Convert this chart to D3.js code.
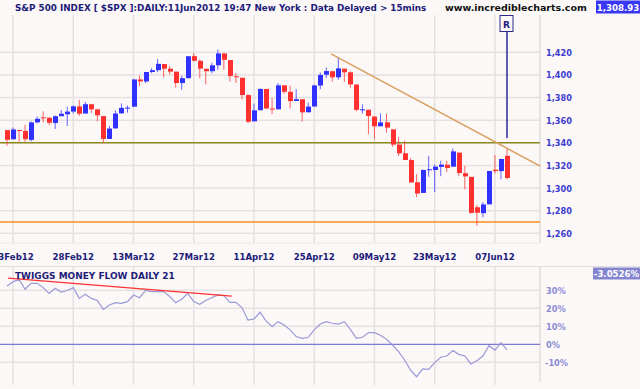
<!DOCTYPE html>
<html>
<head>
<meta charset="utf-8">
<script src="https://cdn.jsdelivr.net/npm/d3@7"></script>
<style>
  body { margin: 0; background: #fcf8f8; }
  svg { display: block; }
  text { font-family: "DejaVu Sans", Verdana, sans-serif; font-weight: bold; }
</style>
</head>
<body>
<div id="chart"></div>
<script>
// S&P 500 daily candles, 10 Feb 2012 to 11 Jun 2012
const dates = [
  "10Feb12","13Feb12","14Feb12","15Feb12","16Feb12","17Feb12","21Feb12","22Feb12","23Feb12","24Feb12",
  "27Feb12","28Feb12","29Feb12","01Mar12","02Mar12","05Mar12","06Mar12","07Mar12","08Mar12","09Mar12",
  "12Mar12","13Mar12","14Mar12","15Mar12","16Mar12","19Mar12","20Mar12","21Mar12","22Mar12","23Mar12",
  "26Mar12","27Mar12","28Mar12","29Mar12","30Mar12","02Apr12","03Apr12","04Apr12","05Apr12","09Apr12",
  "10Apr12","11Apr12","12Apr12","13Apr12","16Apr12","17Apr12","18Apr12","19Apr12","20Apr12","23Apr12",
  "24Apr12","25Apr12","26Apr12","27Apr12","30Apr12","01May12","02May12","03May12","04May12","07May12",
  "08May12","09May12","10May12","11May12","14May12","15May12","16May12","17May12","18May12","21May12",
  "22May12","23May12","24May12","25May12","29May12","30May12","31May12","01Jun12","04Jun12","05Jun12",
  "06Jun12","07Jun12","08Jun12","11Jun12"
];
const opens = [
  1351.2,1343.1,1351.3,1350.5,1342.6,1358.1,1362.5,1362.1,1357.5,1363.5,
  1365.2,1367.6,1372.2,1365.9,1374.1,1369.6,1363.6,1343.4,1352.7,1366.0,
  1370.8,1371.9,1396.0,1394.2,1402.6,1404.2,1409.6,1405.5,1402.9,1392.8,
  1397.1,1416.6,1412.5,1405.4,1403.3,1408.5,1419.0,1413.1,1398.8,1397.5,
  1382.2,1359.0,1368.8,1387.6,1370.3,1369.6,1390.8,1385.1,1377.0,1378.5,
  1367.0,1372.1,1390.6,1400.2,1403.3,1397.9,1405.5,1402.3,1391.5,1368.8,
  1369.2,1363.2,1354.6,1358.1,1351.9,1338.4,1330.8,1324.8,1305.1,1295.7,
  1316.1,1316.0,1318.7,1320.6,1318.9,1331.3,1313.1,1309.9,1283.0,1277.8,
  1285.6,1316.2,1315.0,1328.5
];
const highs = [
  1351.2,1353.4,1351.3,1355.9,1359.0,1363.4,1367.8,1362.7,1364.2,1368.9,
  1371.9,1373.1,1378.0,1376.2,1374.5,1369.6,1363.6,1354.9,1368.7,1374.8,
  1373.0,1396.1,1399.4,1402.6,1405.9,1414.0,1409.6,1407.8,1402.9,1399.2,
  1416.6,1419.2,1413.7,1405.4,1410.9,1422.4,1419.0,1413.1,1401.6,1397.5,
  1383.0,1374.7,1388.1,1387.6,1379.7,1392.8,1390.8,1390.5,1387.4,1378.5,
  1375.6,1391.4,1402.1,1406.6,1403.3,1415.3,1405.5,1403.1,1391.5,1373.9,
  1369.2,1363.7,1365.9,1365.7,1351.9,1344.9,1341.8,1326.4,1312.2,1316.4,
  1328.5,1320.7,1324.1,1324.2,1334.9,1331.3,1319.7,1309.9,1285.0,1287.6,
  1315.1,1329.1,1325.8,1335.5
];
const lows = [
  1337.4,1343.1,1340.8,1340.8,1341.2,1357.2,1358.1,1355.5,1352.3,1363.5,
  1354.9,1366.0,1363.8,1365.9,1366.4,1359.1,1340.0,1343.4,1352.7,1366.0,
  1366.7,1371.9,1390.0,1392.8,1401.5,1402.4,1397.7,1400.6,1388.7,1386.9,
  1397.1,1412.0,1397.2,1391.6,1401.4,1404.5,1404.6,1394.1,1392.9,1378.2,
  1357.4,1359.0,1368.8,1369.9,1365.4,1369.6,1383.3,1370.3,1377.0,1358.8,
  1366.8,1372.1,1387.3,1397.3,1394.0,1395.7,1393.9,1388.7,1368.0,1366.0,
  1347.8,1343.1,1354.6,1348.9,1336.6,1328.4,1324.8,1304.9,1292.0,1295.7,
  1310.0,1296.5,1310.5,1314.2,1318.9,1310.8,1298.9,1277.3,1266.7,1274.2,
  1285.6,1312.7,1307.8,1307.7
];
const closes = [
  1342.6,1351.8,1350.5,1343.2,1358.0,1361.2,1362.2,1357.7,1363.5,1365.7,
  1367.6,1372.2,1365.7,1374.1,1369.6,1364.3,1343.4,1352.6,1365.9,1370.9,
  1371.1,1396.0,1394.3,1402.6,1404.2,1409.8,1405.5,1402.9,1392.8,1397.1,
  1416.5,1412.5,1405.5,1403.3,1408.5,1419.0,1413.4,1399.0,1398.1,1382.2,
  1358.6,1368.7,1387.6,1370.3,1369.6,1390.8,1385.1,1376.9,1378.5,1366.9,
  1372.0,1390.7,1400.0,1403.4,1397.9,1405.8,1402.3,1391.6,1369.1,1369.6,
  1363.7,1354.6,1358.0,1353.4,1338.4,1330.7,1324.8,1304.9,1295.2,1316.0,
  1316.6,1318.9,1320.7,1317.8,1332.4,1313.3,1310.3,1278.0,1278.2,1285.5,
  1315.1,1315.0,1325.7,1308.9
];
// Twiggs Money Flow (21), percent
const tmf = [
  32.4,34.7,36.1,30.6,33.9,33.9,31.5,28.3,31.1,29.0,
  29.9,31.5,25.5,27.8,25.5,24.3,19.4,21.8,23.1,22.7,
  23.7,27.4,25.9,29.9,29.3,29.3,29.3,26.6,23.1,25.0,
  28.3,23.7,22.2,24.3,25.9,27.4,27.0,23.3,23.3,20.4,
  13.5,14.1,17.8,13.0,9.8,12.6,10.7,8.0,4.3,3.3,
  3.9,8.0,11.3,12.6,11.7,11.2,12.6,8.3,3.3,3.9,
  6.5,6.5,5.0,2.8,-0.4,-4.1,-8.7,-14.3,-18.0,-13.7,
  -13.9,-10.2,-7.2,-6.5,-3.5,-5.6,-6.5,-10.9,-9.1,-6.5,
  -0.8,-3.2,0.9,-3.05
];
const dateTicks = ["13Feb12","28Feb12","13Mar12","27Mar12","11Apr12","25Apr12","09May12","23May12","07Jun12"];
const priceTicks = [1260, 1280, 1300, 1320, 1340, 1360, 1380, 1400, 1420];
const tmfTicks = [-10, 0, 10, 20, 30];

// drawn lines: [bar index, value]
const resistTrend = [[53.8, 1418.6], [88.5, 1319.4]];
const supportLevel = 1340;
const lowLevel = 1270;
const tmfTrend = [[0.17, 36.8], [37.3, 26.8]];
const rMarkPrice = 1344.2;
const lastPrice = "1,308.93";
const lastTmf = "-3.0526%";

const W = 640, H = 389;
const plotRight = 540;
const pTop = 15, pBottom = 243;
const iTop = 267, iBottom = 385;

const svg = d3.select("#chart").append("svg")
  .attr("width", W).attr("height", H);
svg.append("rect").attr("width", W).attr("height", H).attr("fill", "#fcf8f8");

const x = d3.scaleLinear().domain([0, dates.length - 1]).range([7, 507]);
const y = d3.scaleLinear().domain([1260, 1420]).range([233.3, 52.3]);
const yT = d3.scaleLinear().domain([-10, 30]).range([362.3, 290.3]);

const grid = "#e6e1e1";
const tickIdx = dateTicks.map(d => dates.indexOf(d));

// shrink a text's font until it fits the width it has in the picture
function fitText(sel, width) {
  const node = sel.node();
  const fs = +sel.attr("font-size");
  const w = node.getComputedTextLength();
  if (w > width) sel.attr("font-size", fs * width / w);
  return sel;
}

// price panel grid
const pg = svg.append("g");
pg.selectAll(".hg").data(priceTicks).join("line")
  .attr("x1", 0).attr("x2", plotRight)
  .attr("y1", d => y(d)).attr("y2", d => y(d))
  .attr("stroke", grid).attr("stroke-width", 1.5);
pg.selectAll(".vg").data(tickIdx).join("line")
  .attr("x1", d => x(d)).attr("x2", d => x(d))
  .attr("y1", pTop).attr("y2", pBottom)
  .attr("stroke", grid).attr("stroke-width", 1.5);
pg.append("line").attr("x1", plotRight).attr("x2", plotRight)
  .attr("y1", pTop).attr("y2", pBottom).attr("stroke", "#d4d0d0");
pg.append("line").attr("x1", 0).attr("x2", plotRight)
  .attr("y1", pBottom).attr("y2", pBottom).attr("stroke", "#ece8e8");

// indicator panel grid
const ig = svg.append("g");
ig.append("line").attr("x1", 0).attr("x2", W).attr("y1", iTop - 0.5).attr("y2", iTop - 0.5)
  .attr("stroke", "#e2dede");
ig.selectAll(".hg").data(tmfTicks.filter(d => d !== 0)).join("line")
  .attr("x1", 0).attr("x2", plotRight)
  .attr("y1", d => yT(d)).attr("y2", d => yT(d))
  .attr("stroke", grid).attr("stroke-width", 1.5);
ig.selectAll(".vg").data(tickIdx).join("line")
  .attr("x1", d => x(d)).attr("x2", d => x(d))
  .attr("y1", iTop).attr("y2", iBottom)
  .attr("stroke", grid).attr("stroke-width", 1.5);
ig.append("line").attr("x1", plotRight).attr("x2", plotRight)
  .attr("y1", iTop).attr("y2", iBottom - 3).attr("stroke", "#d4d0d0");
ig.append("line").attr("x1", 0).attr("x2", plotRight)
  .attr("y1", yT(0)).attr("y2", yT(0))
  .attr("stroke", "#7a7ad8").attr("stroke-width", 1.2);

// horizontal levels
svg.append("line").attr("x1", 0).attr("x2", plotRight)
  .attr("y1", y(supportLevel)).attr("y2", y(supportLevel))
  .attr("stroke", "#8c8a1c").attr("stroke-width", 1.5);
svg.append("line").attr("x1", 0).attr("x2", plotRight)
  .attr("y1", y(lowLevel)).attr("y2", y(lowLevel))
  .attr("stroke", "#ff8c1a").attr("stroke-width", 1.5);

// candles
const bars = d3.range(dates.length).map(i => ({
  i, o: opens[i], h: highs[i], l: lows[i], c: closes[i]
}));
const up = "#3030ff", down = "#ff3030";
const cg = svg.append("g");
cg.selectAll("line").data(bars).join("line")
  .attr("x1", d => x(d.i)).attr("x2", d => x(d.i))
  .attr("y1", d => y(d.h)).attr("y2", d => y(d.l))
  .attr("stroke", d => d.c >= d.o ? up : down)
  .attr("stroke-opacity", 0.75)
  .attr("stroke-width", 1);
cg.selectAll("rect").data(bars).join("rect")
  .attr("x", d => Math.round(x(d.i)) - 2)
  .attr("width", 5)
  .attr("y", d => y(Math.max(d.o, d.c)))
  .attr("height", d => Math.max(1, Math.abs(y(d.o) - y(d.c))))
  .attr("fill", d => d.c >= d.o ? up : down);

// resistance trend line
svg.append("line")
  .attr("x1", x(resistTrend[0][0])).attr("y1", y(resistTrend[0][1]))
  .attr("x2", x(resistTrend[1][0])).attr("y2", y(resistTrend[1][1]))
  .attr("stroke", "#d9a060").attr("stroke-width", 1.5);

// R marker
const last = dates.length - 1;
svg.append("line")
  .attr("x1", x(last)).attr("x2", x(last))
  .attr("y1", 32).attr("y2", y(rMarkPrice))
  .attr("stroke", "#2a2a9c").attr("stroke-width", 1.5);
svg.append("rect")
  .attr("x", x(last) - 7).attr("y", 15.5).attr("width", 13).attr("height", 16)
  .attr("fill", "#fcf8f8").attr("stroke", "#2a2a8c").attr("stroke-width", 1);
svg.append("text").text("R")
  .attr("x", x(last) - 0.5).attr("y", 27.5).attr("text-anchor", "middle")
  .attr("font-size", 9).attr("fill", "#1c1c7a");

// price axis labels
svg.selectAll(".py").data(priceTicks).join("text")
  .text(d => d3.format(",")(d))
  .attr("x", 546).attr("y", d => y(d) + 3.5)
  .attr("font-size", 8.2).attr("fill", "#3c3cd0");

// date labels
svg.selectAll(".dx").data(dateTicks).join("text")
  .text(d => d)
  .attr("x", d => x(dates.indexOf(d))).attr("y", 259.5)
  .attr("text-anchor", "middle")
  .attr("font-size", 8.6).attr("fill", "#1c1c7a");

// TMF line
const line = d3.line().x((d, i) => x(i)).y(d => yT(d));
svg.append("path").datum(tmf)
  .attr("d", line)
  .attr("fill", "none").attr("stroke", "#9a9ad8").attr("stroke-width", 1.2);
svg.append("line")
  .attr("x1", x(tmfTrend[0][0])).attr("y1", yT(tmfTrend[0][1]))
  .attr("x2", x(tmfTrend[1][0])).attr("y2", yT(tmfTrend[1][1]))
  .attr("stroke", "#ff3030").attr("stroke-width", 1.3);

svg.selectAll(".ty").data(tmfTicks).join("text")
  .text(d => d + "%")
  .attr("x", d => d < 0 ? 545 : 546).attr("y", d => yT(d) + 3.5)
  .attr("font-size", 8.2).attr("fill", "#8c8cd4");

// titles
fitText(svg.append("text")
  .text("S&P 500 INDEX [ $SPX ]:DAILY:11Jun2012 19:47 New York : Data Delayed > 15mins")
  .attr("x", 15).attr("y", 11)
  .attr("font-size", 10).attr("fill", "#1c1c78"), 412);
fitText(svg.append("text")
  .text("www.incrediblecharts.com")
  .attr("x", 445).attr("y", 11)
  .attr("font-size", 10).attr("fill", "#111"), 142);
svg.append("rect").attr("x", 596).attr("y", 0.5).attr("width", 44).attr("height", 13)
  .attr("fill", "#3737f5");
svg.append("text").text(lastPrice)
  .attr("x", 618).attr("y", 10.5).attr("text-anchor", "middle")
  .attr("font-size", 8.6).attr("fill", "#fff");

fitText(svg.append("text")
  .text("TWIGGS MONEY FLOW DAILY 21")
  .attr("x", 15).attr("y", 278.5)
  .attr("font-size", 9).attr("fill", "#1c1c78"), 160);
svg.append("rect").attr("x", 593).attr("y", 267.5).attr("width", 47).attr("height", 12)
  .attr("fill", "#8585cf");
svg.append("text").text(lastTmf)
  .attr("x", 616.5).attr("y", 277).attr("text-anchor", "middle")
  .attr("font-size", 8.6).attr("fill", "#fff");
</script>
</body>
</html>
